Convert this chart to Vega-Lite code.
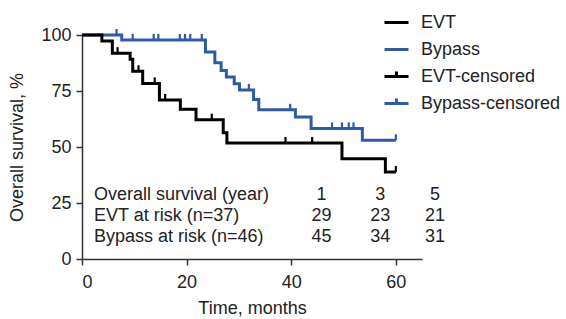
{
  "$schema": "https://vega.github.io/schema/vega-lite/v6.json",
  "width": 340,
  "height": 224,
  "autosize": {"type": "none"},
  "padding": {"left": 82, "top": 35, "right": 144, "bottom": 60},
  "config": {
    "font": "Liberation Sans",
    "view": {"stroke": null},
    "axis": {
      "grid": false,
      "labelFontSize": 18,
      "titleFontSize": 18,
      "titleFontWeight": "normal",
      "labelColor": "#222",
      "titleColor": "#222",
      "domainColor": "#333",
      "tickColor": "#333",
      "domainWidth": 1.5,
      "tickWidth": 1.5,
      "tickSize": 6
    }
  },
  "datasets": {
    "curves": [
      {"arm": "Bypass", "t": 0, "s": 100},
      {"arm": "Bypass", "t": 7.6, "s": 97.8},
      {"arm": "Bypass", "t": 23.6, "s": 92.4},
      {"arm": "Bypass", "t": 25.4, "s": 87.6},
      {"arm": "Bypass", "t": 26.6, "s": 84.2},
      {"arm": "Bypass", "t": 27.6, "s": 81.2},
      {"arm": "Bypass", "t": 29.1, "s": 78.2},
      {"arm": "Bypass", "t": 30.1, "s": 75.5},
      {"arm": "Bypass", "t": 32.8, "s": 71.2},
      {"arm": "Bypass", "t": 33.8, "s": 66.6},
      {"arm": "Bypass", "t": 40.8, "s": 63.4},
      {"arm": "Bypass", "t": 43.8, "s": 58.3},
      {"arm": "Bypass", "t": 53.6, "s": 53.0},
      {"arm": "Bypass", "t": 60, "s": 53.0},
      {"arm": "EVT", "t": 0, "s": 100},
      {"arm": "EVT", "t": 3.8, "s": 97.3},
      {"arm": "EVT", "t": 5.8, "s": 91.9},
      {"arm": "EVT", "t": 9.2, "s": 89.2},
      {"arm": "EVT", "t": 9.7, "s": 83.8},
      {"arm": "EVT", "t": 11.6, "s": 78.4},
      {"arm": "EVT", "t": 14.8, "s": 71.0},
      {"arm": "EVT", "t": 18.8, "s": 66.8},
      {"arm": "EVT", "t": 21.8, "s": 62.2},
      {"arm": "EVT", "t": 27.0, "s": 56.4},
      {"arm": "EVT", "t": 27.7, "s": 51.8},
      {"arm": "EVT", "t": 49.7, "s": 44.8},
      {"arm": "EVT", "t": 58.0, "s": 38.8},
      {"arm": "EVT", "t": 60, "s": 38.8}
    ],
    "censors": [
      {"series": "EVT-censored", "t": 6.8, "s": 91.9},
      {"series": "EVT-censored", "t": 10.8, "s": 83.8},
      {"series": "EVT-censored", "t": 13.9, "s": 78.4},
      {"series": "EVT-censored", "t": 15.9, "s": 71.0},
      {"series": "EVT-censored", "t": 24.8, "s": 62.2},
      {"series": "EVT-censored", "t": 38.9, "s": 51.8},
      {"series": "EVT-censored", "t": 44.0, "s": 51.8},
      {"series": "EVT-censored", "t": 60, "s": 38.8},
      {"series": "Bypass-censored", "t": 6.6, "s": 100},
      {"series": "Bypass-censored", "t": 9.7, "s": 97.8},
      {"series": "Bypass-censored", "t": 13.7, "s": 97.8},
      {"series": "Bypass-censored", "t": 14.6, "s": 97.8},
      {"series": "Bypass-censored", "t": 18.7, "s": 97.8},
      {"series": "Bypass-censored", "t": 19.7, "s": 97.8},
      {"series": "Bypass-censored", "t": 20.7, "s": 97.8},
      {"series": "Bypass-censored", "t": 22.9, "s": 97.8},
      {"series": "Bypass-censored", "t": 31.9, "s": 75.5},
      {"series": "Bypass-censored", "t": 39.8, "s": 66.6},
      {"series": "Bypass-censored", "t": 47.8, "s": 58.3},
      {"series": "Bypass-censored", "t": 49.7, "s": 58.3},
      {"series": "Bypass-censored", "t": 51.0, "s": 58.3},
      {"series": "Bypass-censored", "t": 51.9, "s": 58.3},
      {"series": "Bypass-censored", "t": 60, "s": 53.0}
    ],
    "rowlabels": [
      {"label": "Overall survival (year)", "t": 2.3, "s": 28.6},
      {"label": "EVT at risk (n=37)", "t": 2.3, "s": 19.2},
      {"label": "Bypass at risk (n=46)", "t": 2.3, "s": 10.0}
    ],
    "cells": [
      {"value": "1", "t": 45.8, "s": 28.6},
      {"value": "3", "t": 57.0, "s": 28.6},
      {"value": "5", "t": 67.5, "s": 28.6},
      {"value": "29", "t": 45.8, "s": 19.2},
      {"value": "23", "t": 57.0, "s": 19.2},
      {"value": "21", "t": 67.5, "s": 19.2},
      {"value": "45", "t": 45.8, "s": 10.0},
      {"value": "34", "t": 57.0, "s": 10.0},
      {"value": "31", "t": 67.5, "s": 10.0}
    ]
  },
  "encoding": {
    "x": {
      "field": "t",
      "type": "quantitative",
      "scale": {"domain": [0, 65], "nice": false},
      "axis": {"values": [0, 20, 40, 60], "title": "Time, months", "labelPadding": 8, "titlePadding": 8}
    },
    "y": {
      "field": "s",
      "type": "quantitative",
      "scale": {"domain": [0, 100], "nice": false},
      "axis": {"values": [0, 25, 50, 75, 100], "title": "Overall survival, %", "labelPadding": 5, "titlePadding": 14}
    }
  },
  "layer": [
    {
      "data": {"name": "curves"},
      "mark": {"type": "line", "interpolate": "step-after", "strokeWidth": 3, "clip": false},
      "encoding": {
        "color": {
          "field": "arm",
          "type": "nominal",
          "sort": null,
          "scale": {
            "domain": ["EVT", "Bypass", "EVT-censored", "Bypass-censored"],
            "range": ["#000000", "#2E5AA7", "#000000", "#2E5AA7"]
          },
          "legend": {
            "title": null,
            "orient": "none",
            "legendX": 301,
            "legendY": -26,
            "labelFontSize": 18,
            "labelColor": "#222",
            "labelOffset": 11,
            "rowPadding": 4,
            "symbolSize": 576,
            "symbolStrokeWidth": 3,
            "encode": {
              "symbols": {
                "update": {
                  "shape": {"signal": "test(/censored/, datum.value) ? 'M-1,0H1M0,0V-0.42' : 'M-1,0H1'"},
                  "stroke": {"signal": "scale('color', datum.value)"},
                  "fill": {"value": "transparent"},
                  "strokeWidth": {"value": 3}
                }
              }
            }
          }
        }
      }
    },
    {
      "data": {"name": "censors"},
      "mark": {"type": "point", "shape": "M0,0V-1", "size": 144, "filled": false, "strokeWidth": 2.2, "opacity": 1, "clip": false},
      "encoding": {
        "color": {"field": "series", "type": "nominal"}
      }
    },
    {
      "data": {"name": "rowlabels"},
      "mark": {"type": "text", "align": "left", "baseline": "middle", "fontSize": 18, "color": "#222"},
      "encoding": {"text": {"field": "label"}}
    },
    {
      "data": {"name": "cells"},
      "mark": {"type": "text", "align": "center", "baseline": "middle", "fontSize": 18, "color": "#222"},
      "encoding": {"text": {"field": "value"}}
    }
  ]
}
